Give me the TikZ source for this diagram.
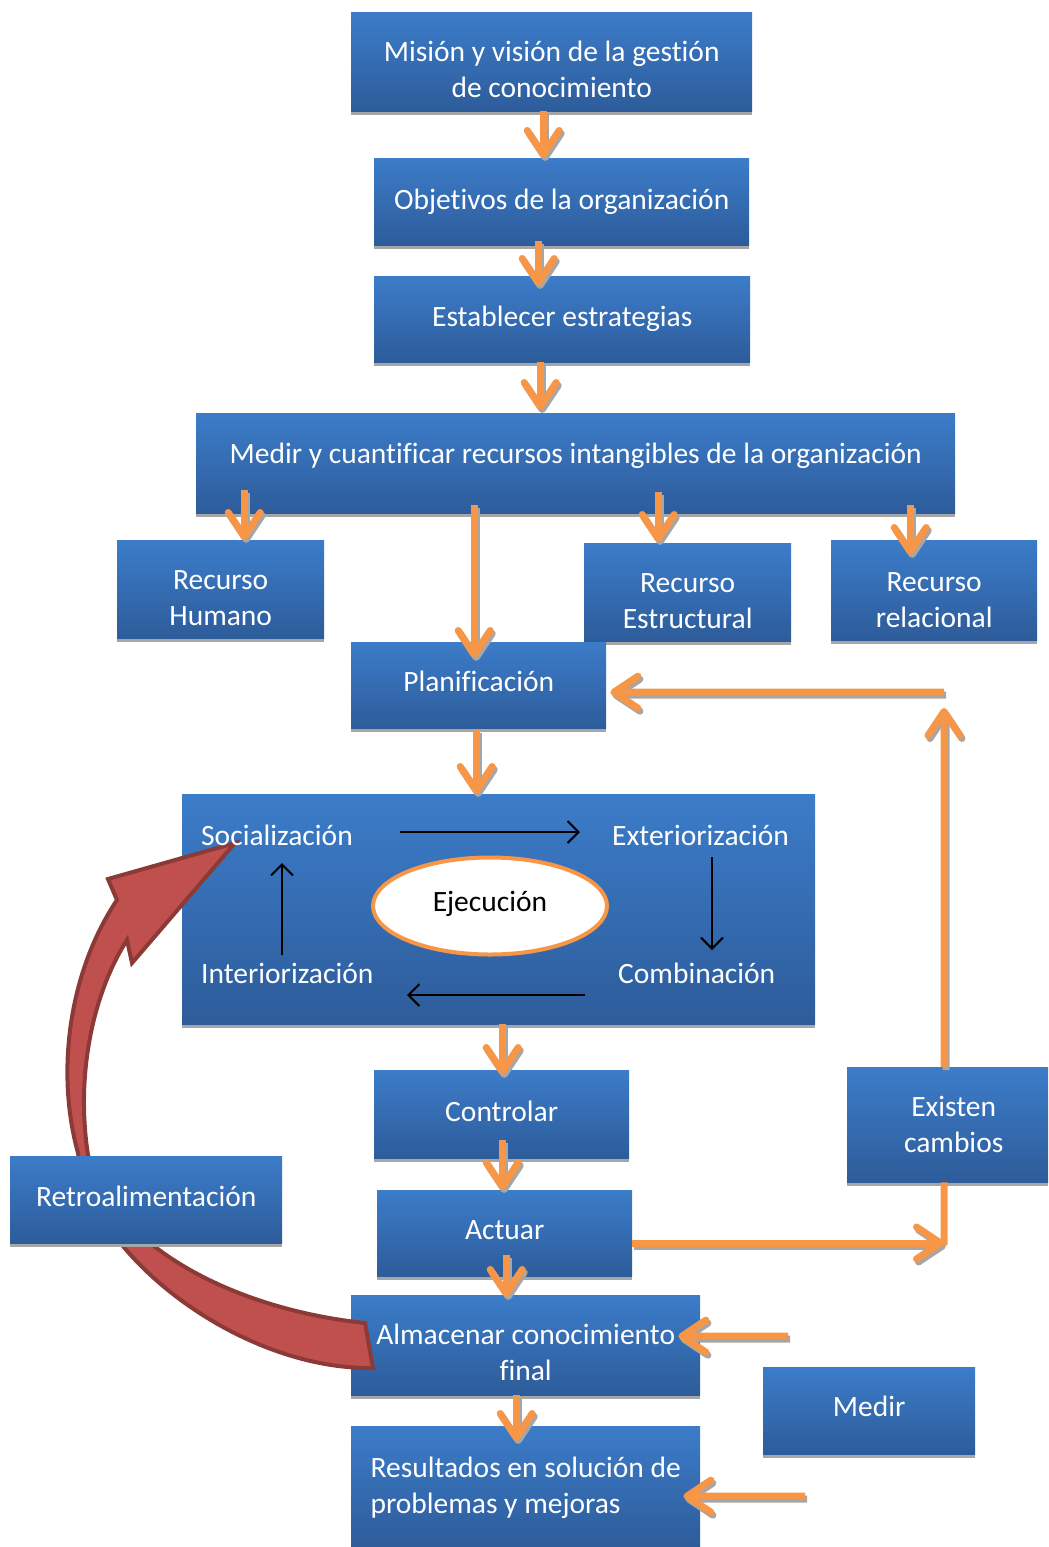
\documentclass[tikz,border=0pt]{standalone}
\usepackage{fontspec}
\setmainfont{Carlito}[Ligatures=NoCommon]
\usetikzlibrary{arrows.meta,calc,shapes.geometric,shadows}
\definecolor{bluetop}{HTML}{3C7CC9}
\definecolor{bluebot}{HTML}{2D5C9A}
\definecolor{shgray}{HTML}{A6A6A6}
\definecolor{orng}{HTML}{F79646}
\definecolor{redfill}{HTML}{C0504D}
\definecolor{redline}{HTML}{8C3A37}
\newcommand\bxt[3][c]{\raisebox{#2pt}[\height][\depth]{\begin{tabular}{@{}#1@{}}#3\end{tabular}}}
\tikzset{
  box/.style={top color=bluetop, bottom color=bluebot, text=white, anchor=north west,
    inner sep=0pt, font=\fontsize{29.5}{36}\selectfont,
    drop shadow={shadow xshift=0pt, shadow yshift=-4pt, opacity=1, fill=shgray}},
  lbl/.style={text=white, inner sep=0pt, font=\fontsize{29.5}{36}\selectfont},
  otip/.style={-{Straight Barb[length=24pt,width=32pt,round]}},
  oarr/.style={draw=orng, line width=7pt, otip,
    preaction={draw=shgray, line width=7pt, otip, transform canvas={shift={(2pt,-3pt)}}}},
  oline/.style={draw=orng, line width=7pt},
  barr/.style={draw=black, line width=2pt, -{Straight Barb[length=11pt,width=22pt]}},
}
\begin{document}
\begin{tikzpicture}[x=1pt,y=-1pt]
\useasboundingbox (0,0) rectangle (1049,1547);
% boxes
\node[box, minimum width=401pt, minimum height=99pt] (m) at (351,12) {\bxt{-11}{Misión y visión de la gestión\\de conocimiento}};
\node[box, minimum width=375pt, minimum height=87pt] (o) at (374,158) {\bxt{-1}{Objetivos de la organización}};
\node[box, minimum width=376pt, minimum height=86pt] (e) at (374,276) {\bxt{0}{Establecer estrategias}};
\node[box, minimum width=759pt, minimum height=100pt] (mc) at (196,413) {\bxt{7}{Medir y cuantificar recursos intangibles de la organización}};
\node[box, minimum width=207pt, minimum height=98pt] (rh) at (117,540) {\bxt{-11}{Recurso\\Humano}};
\node[box, minimum width=207pt, minimum height=98pt] (re) at (584,543) {\bxt{-11}{Recurso\\Estructural}};
\node[box, minimum width=206pt, minimum height=100pt] (rr) at (831,540) {\bxt{-12}{Recurso\\relacional}};
\node[box, minimum width=255pt, minimum height=86pt] (pl) at (351,642) {\bxt{1}{Planificación}};
\node[box, minimum width=633pt, minimum height=230pt] (ex) at (182,794) {};
\node[box, minimum width=255pt, minimum height=88pt] (co) at (374,1070) {\bxt{0}{Controlar}};
\node[box, minimum width=255pt, minimum height=86pt] (ac) at (377,1190) {\bxt{1}{Actuar}};
\node[box, minimum width=349pt, minimum height=100pt] (al) at (351,1295) {\bxt{-10}{Almacenar conocimiento\\final}};
\node[box, minimum width=349pt, minimum height=121pt] (rs) at (351,1426) {\bxt[l]{-2}{Resultados en solución de\\problemas y mejoras}};
\node[box, minimum width=201pt, minimum height=115pt] (ec) at (847,1067) {\bxt{-2.5}{\hspace*{12pt}Existen\\\hspace*{12pt}cambios}};
\node[box, minimum width=212pt, minimum height=87pt] (md) at (763,1367) {\bxt{1}{Medir}};
% free coordinates
\coordinate (c1) at (944,1243);
\coordinate (c2) at (944,692);
\coordinate (c3) at (788,1336);
\coordinate (c4) at (805,1496);
% orange arrows
\draw[oarr] ($(m.south)+(-8.5,0)$) -- ($(o.north)+(-18.5,0)$);
\draw[oarr] ($(o.south)+(-23.5,-4)$) -- ($(e.north)+(-24,10)$);
\draw[oarr] ($(e.south)+(-22,0)$) -- ($(mc.north)+(-35.5,-3)$);
\draw[oarr] ($(mc.south)+(-331.5,-23)$) -- ($(rh.north)+(23.5,0)$);
\draw[oarr] ($(mc.south)+(-101.5,-8)$) -- ($(pl.north)+(-4.5,16)$);
\draw[oarr] ($(mc.south)+(82.5,-21)$) -- ($(re.north)+(-29.5,-1)$);
\draw[oarr] ($(mc.south)+(334.5,-8)$) -- ($(rr.north)+(-24,15)$);
\draw[oarr] ($(pl.south)+(-2.5,2)$) -- ($(ex.north)+(-22.5,0)$);
\draw[oarr] ($(ex.south)+(3.5,0)$) -- ($(co.north)+(0.5,5)$);
\draw[oarr] ($(co.south)+(0.5,-18)$) -- ($(ac.north)+(-2.5,0)$);
\draw[oarr] ($(ac.south)+(1.5,-21)$) -- ($(al.north)+(-19.5,2)$);
\draw[oarr] ($(al.south)+(-9.5,0)$) -- ($(rs.north)+(-9.5,15)$);
\draw[oarr] (ac.east |- c1) -- (c1);
\draw[oline] ($(ec.south)+(-3.5,0)$) -- ($(c1)+(0,2)$);
\draw[oarr] ($(ec.north)+(-3.5,0)$) -- ($(c2)+(0,16)$);
\draw[oarr] (c2) -- ($(pl.east)+(4,7)$);
\draw[oarr] (c3) -- ($(al.east)+(-22,-9)$);
\draw[oarr] (c4) -- ($(rs.east)+(-17,9.5)$);
% red curved arrow
\draw[fill=redfill, draw=redline, line width=4pt, line join=miter]
  (373,1368) .. controls (240,1370) and (90,1255) .. (78,1153)
  .. controls (55,1070) and (70,970) .. (117,900)
  -- (108,879) -- (235,843) -- (132,963) -- (127,940)
  .. controls (95,990) and (75,1070) .. (88,1155)
  .. controls (115,1250) and (240,1310) .. (365,1323) -- cycle;
\node[box, minimum width=272pt, minimum height=87pt] (rt) at (10,1156) {\bxt{0}{Retroalimentación}};
% inside execution box
\node[lbl, anchor=base west] (soc) at (201,845) {Socialización};
\node[lbl, anchor=base west] (ext) at (612,845) {Exteriorización};
\node[lbl, anchor=base west] (int) at (201,983) {Interiorización};
\node[lbl, anchor=base west] (com) at (618,983) {Combinación};
\node[ellipse, fill=white, draw=orng, line width=4pt, minimum width=234pt, minimum height=97pt,
      font=\fontsize{29.5}{36}\selectfont, inner sep=0pt] (ej) at (490,906) {\raisebox{2pt}[\height][\depth]{Ejecución}};
\draw[barr] ($(soc.base west)+(199,-13)$) -- ($(ext.base west)+(-32,-13)$);
\draw[barr] ($(ext.base west)+(100,12)$) -- ($(com.base west)+(94,-33)$);
\draw[barr] ($(com.base west)+(-33,12)$) -- ($(int.base west)+(206,12)$);
\draw[barr] ($(int.base west)+(81,-28)$) -- ($(soc.base west)+(81,18)$);
\end{tikzpicture}
\end{document}
